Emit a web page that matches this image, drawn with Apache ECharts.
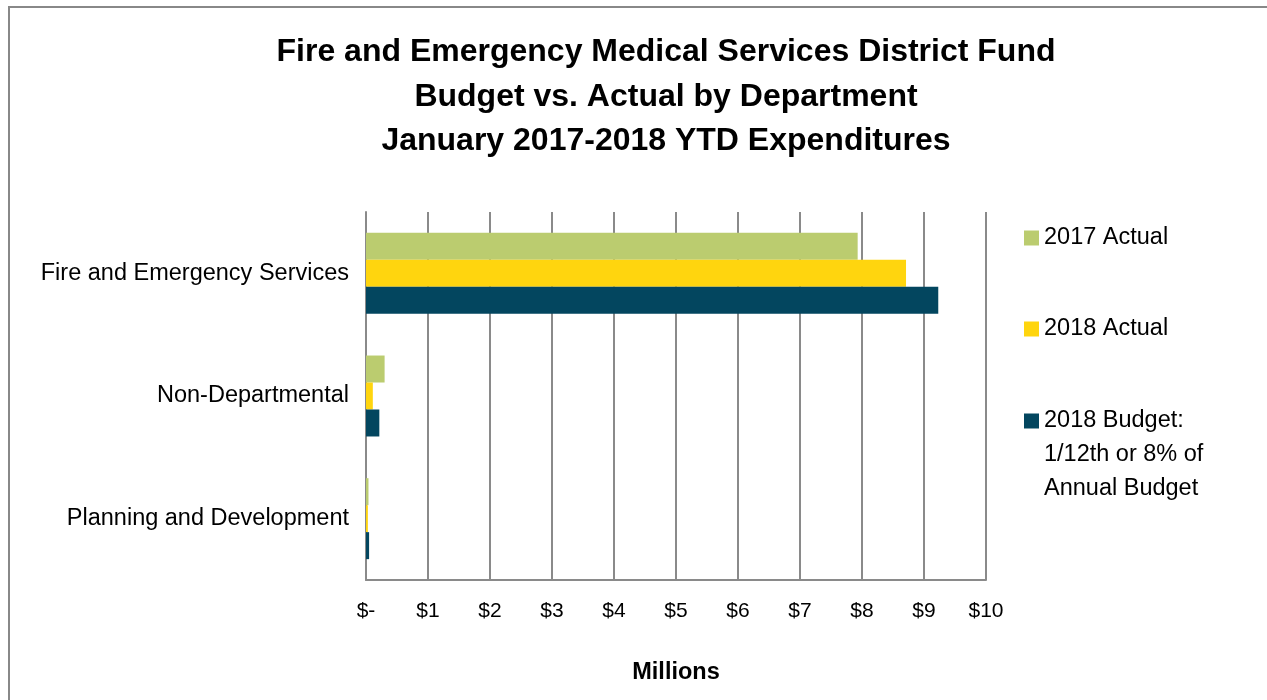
<!DOCTYPE html>
<html>
<head>
<meta charset="utf-8">
<script src="https://cdn.jsdelivr.net/npm/echarts@6/dist/echarts.min.js"></script>
<style>
html,body{margin:0;padding:0;background:#fff;}
#chart{width:1267px;height:700px;}
</style>
</head>
<body>
<div id="chart"></div>
<script>
const categories = ['Fire and Emergency Services', 'Non-Departmental', 'Planning and Development'];
const actual2017 = [7.93, 0.30, 0.04];
const actual2018 = [8.71, 0.11, 0.03];
const budget2018 = [9.23, 0.215, 0.05];
const seriesNames = ['2017 Actual', '2018 Actual', '2018 Budget:\n1/12th or 8% of\nAnnual Budget'];
const xTickLabels = ['$-', '$1', '$2', '$3', '$4', '$5', '$6', '$7', '$8', '$9', '$10'];
const titleText = 'Fire and Emergency Medical Services District Fund\nBudget vs. Actual by Department\nJanuary 2017-2018 YTD Expenditures';
const axisTitle = 'Millions';

const colors = ['#BBCC6F', '#FFD50E', '#03465F'];
const FONT = '"Liberation Sans", Arial, sans-serif';
const gridColor = '#8a8a8a';

const chart = echarts.init(document.getElementById('chart'), null, {renderer: 'canvas'});

function legendFor(i, centerY) {
  const isMulti = i === 2;
  const lh = 34;
  return {
    show: true,
    orient: 'vertical',
    left: 1024,
    top: isMulti ? centerY - lh * 2.5 : centerY - lh / 2,
    padding: 0,
    itemWidth: 15,
    itemHeight: 15,
    icon: 'rect',
    selectedMode: false,
    data: [seriesNames[i]],
    formatter: isMulti ? function (n) { return '\n\n' + n; } : '{name}',
    textStyle: {
      fontFamily: FONT,
      fontSize: 23.5,
      color: '#000',
      lineHeight: lh
    }
  };
}

const option = {
  backgroundColor: '#fff',
  animation: false,
  color: colors,
  title: {
    text: titleText,
    left: 661,
    textAlign: 'center',
    top: 25,
    textStyle: {
      fontFamily: FONT,
      fontSize: 32,
      fontWeight: 'bold',
      color: '#000',
      lineHeight: 44.5
    }
  },
  legend: [
    legendFor(0, 238),
    legendFor(1, 329),
    legendFor(2, 421)
  ],
  grid: {
    left: 366,
    top: 212,
    width: 620,
    height: 368,
    containLabel: false
  },
  xAxis: {
    type: 'value',
    min: 0,
    max: 10,
    interval: 1,
    name: axisTitle,
    nameLocation: 'middle',
    nameGap: 81,
    nameTextStyle: {
      fontFamily: FONT,
      fontSize: 23.5,
      fontWeight: 'bold',
      color: '#000'
    },
    axisLine: {show: true, lineStyle: {color: gridColor, width: 2}},
    axisTick: {show: false},
    splitLine: {show: true, lineStyle: {color: gridColor, width: 2}},
    axisLabel: {
      fontFamily: FONT,
      fontSize: 21,
      color: '#000',
      margin: 21,
      formatter: function (v) { return xTickLabels[Math.round(v)]; }
    }
  },
  yAxis: {
    type: 'category',
    data: categories,
    inverse: true,
    axisLine: {show: true, lineStyle: {color: gridColor, width: 2}},
    axisTick: {show: false},
    splitLine: {show: false},
    axisLabel: {
      fontFamily: FONT,
      fontSize: 23.5,
      color: '#000',
      margin: 17
    }
  },
  series: [
    {name: seriesNames[0], type: 'bar', data: actual2017, barGap: '0%', barCategoryGap: '34%', itemStyle: {color: colors[0]}},
    {name: seriesNames[1], type: 'bar', data: actual2018, barGap: '0%', barCategoryGap: '34%', itemStyle: {color: colors[1]}},
    {name: seriesNames[2], type: 'bar', data: budget2018, barGap: '0%', barCategoryGap: '34%', itemStyle: {color: colors[2]}}
  ],
  graphic: [
    {
      type: 'rect',
      silent: true,
      z: -1,
      shape: {x: 9, y: 7, width: 1400, height: 900},
      style: {fill: 'none', stroke: '#888', lineWidth: 2}
    }
  ]
};

chart.setOption(option);
</script>
</body>
</html>
